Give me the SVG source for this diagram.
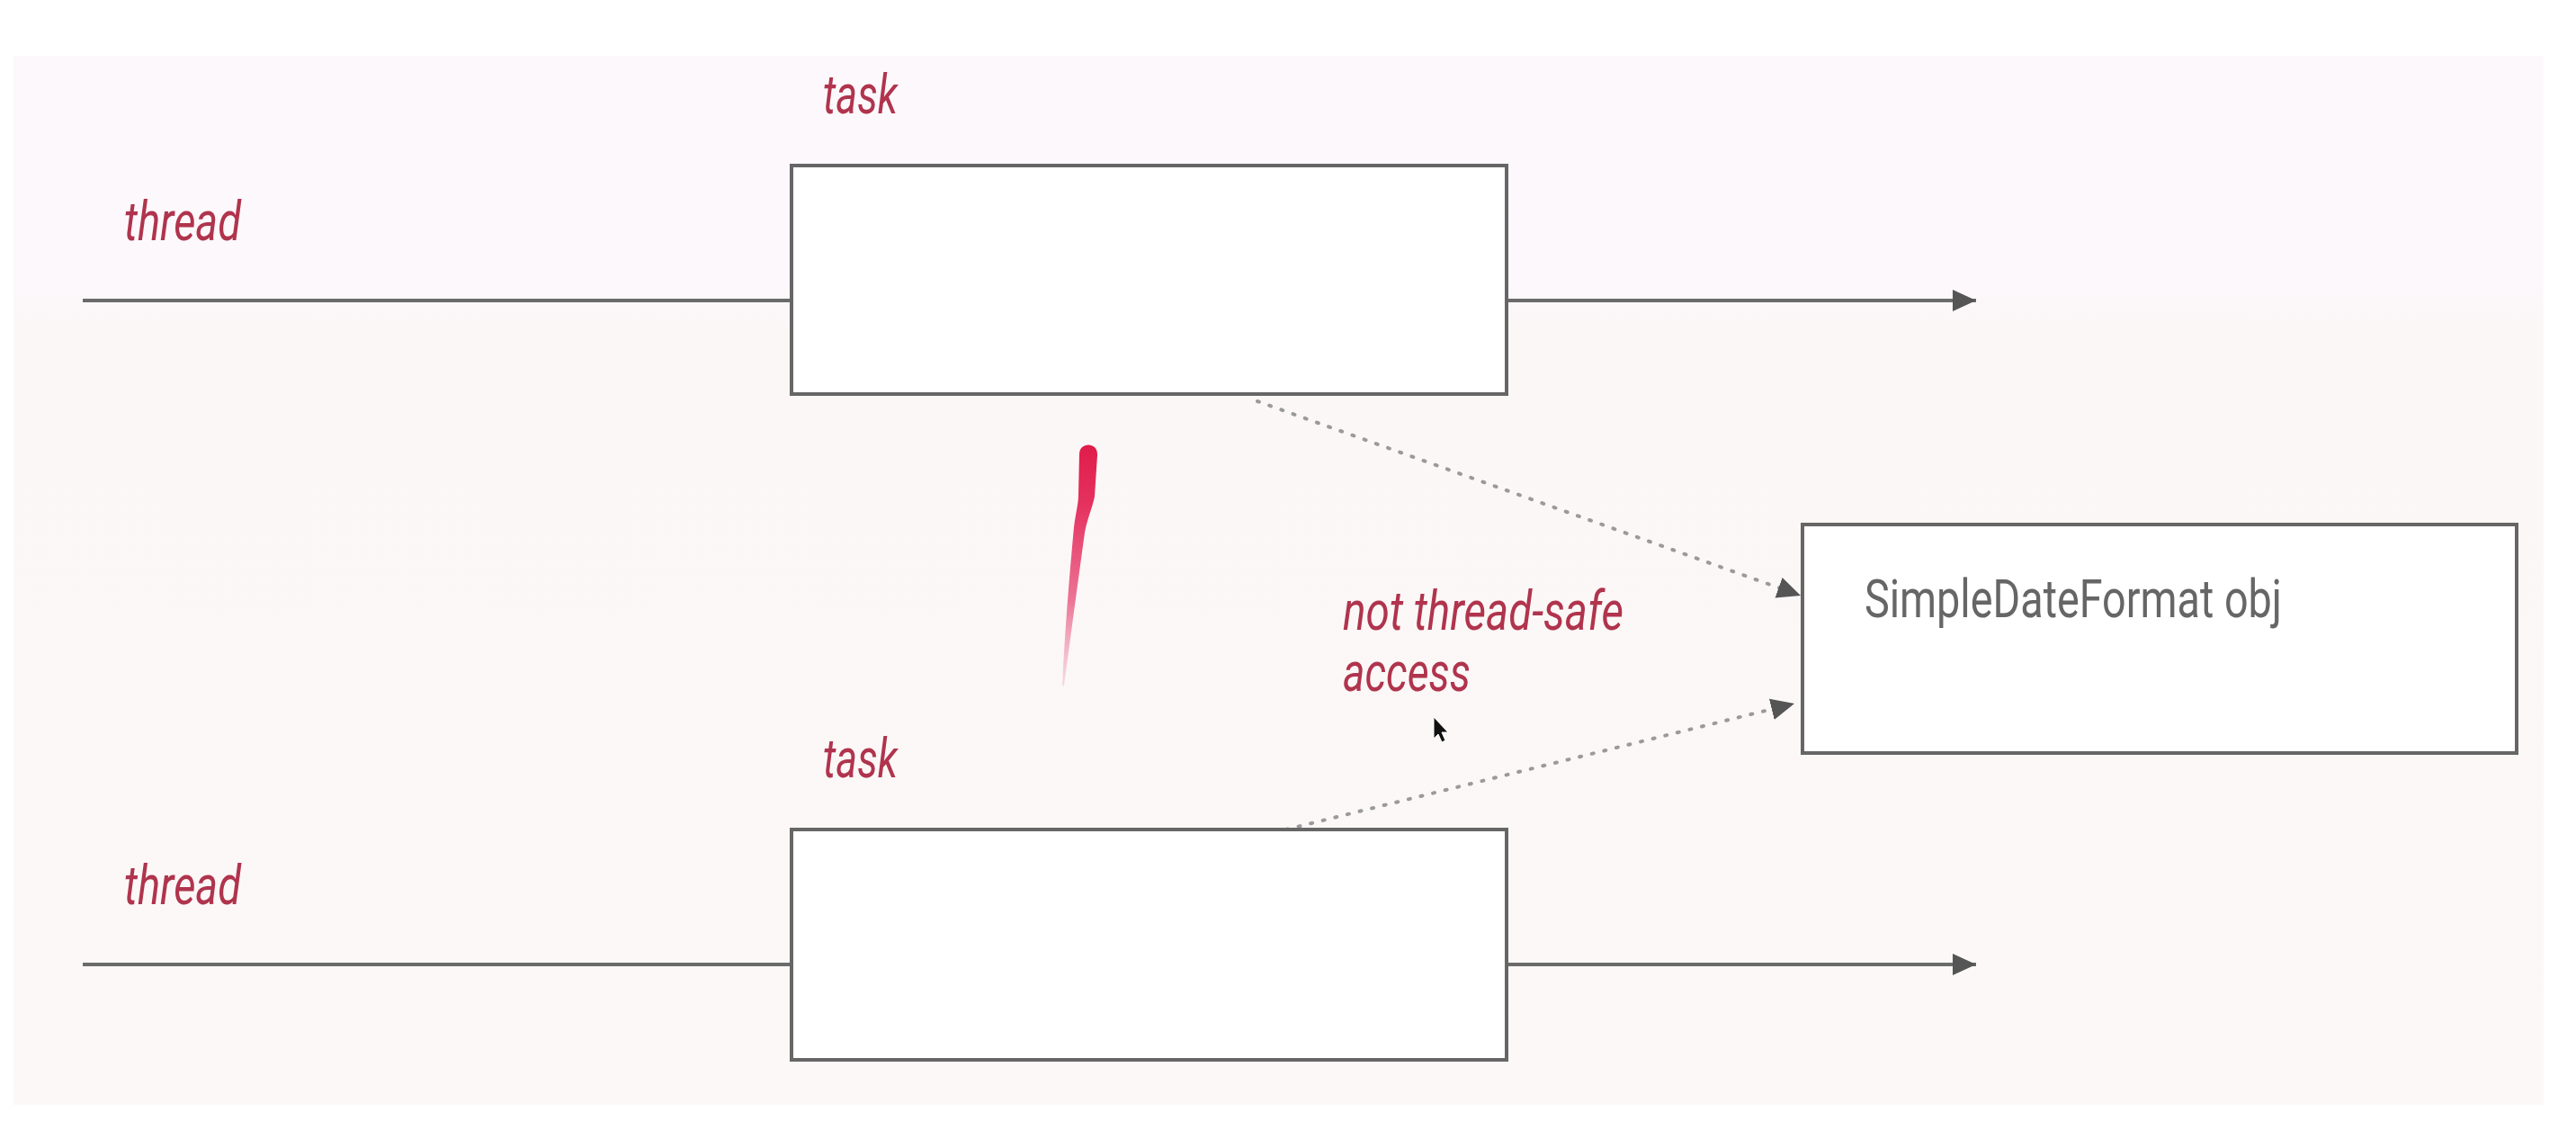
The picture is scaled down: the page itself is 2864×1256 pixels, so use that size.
<svg xmlns="http://www.w3.org/2000/svg" width="2864" height="1256" viewBox="0 0 2864 1256">
  <defs>
    <linearGradient id="panelFill" x1="0" y1="0" x2="0" y2="1">
      <stop offset="0" stop-color="#fcf8fc"/>
      <stop offset="0.22" stop-color="#fcf8fb"/>
      <stop offset="0.26" stop-color="#fbf7f7"/>
      <stop offset="1" stop-color="#fbf8f7"/>
    </linearGradient>
    <linearGradient id="brushFill" x1="0" y1="0" x2="0" y2="1">
      <stop offset="0" stop-color="#e01c4a"/>
      <stop offset="0.25" stop-color="#e5325f"/>
      <stop offset="0.65" stop-color="#ec7596"/>
      <stop offset="1" stop-color="#f6c6d3" stop-opacity="0.6"/>
    </linearGradient>
    <marker id="arrowSolid" markerUnits="userSpaceOnUse" markerWidth="28" markerHeight="24" refX="26" refY="12" orient="auto">
      <path d="M0,0 L26,12 L0,24 Z" fill="#555"/>
    </marker>
  </defs>
  <style>
    .label { font-family: Roboto, "Liberation Sans", sans-serif; font-style: italic; font-size: 60px; fill: #b0344d; }
    .objText { font-family: Roboto, "Liberation Sans", sans-serif; font-size: 60px; fill: #666; }
    .box { fill: #fff; stroke: #666; stroke-width: 4; }
    .thread { stroke: #6b6b6b; stroke-width: 4; fill: none; }
    .access { stroke: #9a9a9a; stroke-width: 4; stroke-dasharray: 2 12; stroke-linecap: round; fill: none; }
  </style>

  <rect width="2864" height="1256" fill="#ffffff"/>
  <rect x="15" y="62" width="2813" height="1166" fill="url(#panelFill)"/>

  <!-- connectors: thread timelines and the shared-object accesses -->
  <g id="connectors">
    <line class="thread" x1="92" y1="334" x2="880" y2="334"/>
    <line class="thread" x1="1675" y1="334" x2="2197" y2="334" marker-end="url(#arrowSolid)"/>
    <line class="thread" x1="92" y1="1072" x2="880" y2="1072"/>
    <line class="thread" x1="1675" y1="1072" x2="2197" y2="1072" marker-end="url(#arrowSolid)"/>
    <line class="access" x1="1398" y1="446" x2="2002" y2="662" marker-end="url(#arrowSolid)"/>
    <line class="access" x1="1430" y1="922" x2="1995" y2="782" marker-end="url(#arrowSolid)"/>
  </g>

  <g id="thread-top-label">
    <text class="label" x="138" y="267" textLength="130" lengthAdjust="spacingAndGlyphs">thread</text>
  </g>
  <g id="task-top">
    <text class="label" x="915" y="126" textLength="83" lengthAdjust="spacingAndGlyphs">task</text>
    <rect class="box" x="880" y="184" width="795" height="254"/>
  </g>

  <g id="thread-bottom-label">
    <text class="label" x="138" y="1005" textLength="130" lengthAdjust="spacingAndGlyphs">thread</text>
  </g>
  <g id="task-bottom">
    <text class="label" x="915" y="864" textLength="83" lengthAdjust="spacingAndGlyphs">task</text>
    <rect class="box" x="880" y="922" width="795" height="256"/>
  </g>

  <g id="simpledateformat">
    <rect class="box" x="2004" y="583" width="794" height="254"/>
    <text class="objText" x="2073" y="686" textLength="464" lengthAdjust="spacingAndGlyphs">SimpleDateFormat obj</text>
  </g>

  <g id="access-note">
    <text class="label" x="1493" y="700" textLength="312" lengthAdjust="spacingAndGlyphs">not thread-safe</text>
    <text class="label" x="1493" y="768" textLength="142" lengthAdjust="spacingAndGlyphs">access</text>
  </g>

  <!-- pen stroke annotation -->
  <path d="M1200,505 C1200,491 1221,491 1220,506 L1217,552 C1214,566 1209,576 1206,592 C1198,650 1190,710 1183,762 L1181,762 C1184,700 1189,640 1194,586 C1196,570 1199,560 1199,550 Z" fill="url(#brushFill)"/>

  <!-- mouse pointer -->
  <path d="M1594,797 L1594,821 L1599,816 L1603,825 L1607,823 L1603,814 L1610,814 Z" fill="#111" stroke="#fff" stroke-width="1"/>
</svg>
